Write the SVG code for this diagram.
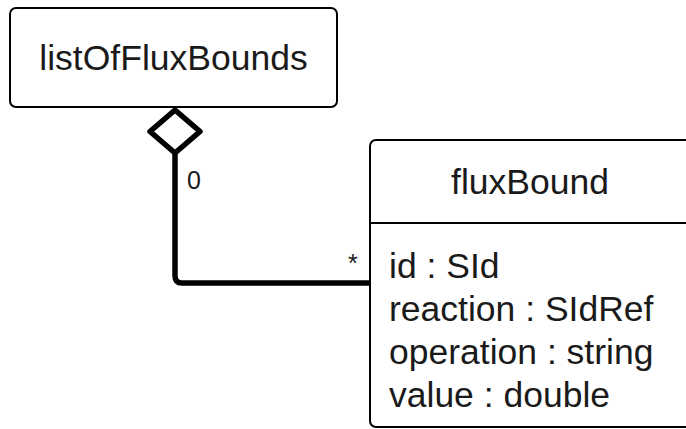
<svg xmlns="http://www.w3.org/2000/svg" width="686" height="429" viewBox="0 0 686 429">
<style>
.box{fill:#fff;stroke:#000;stroke-width:2}
.t{font-family:"Liberation Sans",Arial,sans-serif;fill:#1a1a1a}
.big{font-size:35.5px}
.sm{font-size:25px}
.conn{fill:none;stroke:#000;stroke-width:5.5;stroke-linejoin:round}
</style>
<g id="connectors">
<path class="conn" d="M175,153 L175,276 Q175,283 182,283 L370,283"/>
<polygon class="conn" points="175,110 200,131.5 175,153 150,131.5" style="fill:#fff"/>
<text class="t sm" x="187" y="189">0</text>
<text class="t sm" x="348" y="272">*</text>
</g>
<g id="listOfFluxBounds">
<rect class="box" x="10" y="8" width="327" height="99" rx="6"/>
<text class="t big" x="173.5" y="70" text-anchor="middle">listOfFluxBounds</text>
</g>
<g id="fluxBound">
<rect class="box" x="370" y="140" width="340" height="287" rx="6"/>
<line x1="370" y1="223" x2="686" y2="223" stroke="#000" stroke-width="2"/>
<text class="t big" x="530" y="194" text-anchor="middle">fluxBound</text>
<text class="t big" x="389" y="278">id : SId</text>
<text class="t big" x="389" y="321">reaction : SIdRef</text>
<text class="t big" x="389" y="364">operation : string</text>
<text class="t big" x="389" y="407">value : double</text>
</g>
</svg>
